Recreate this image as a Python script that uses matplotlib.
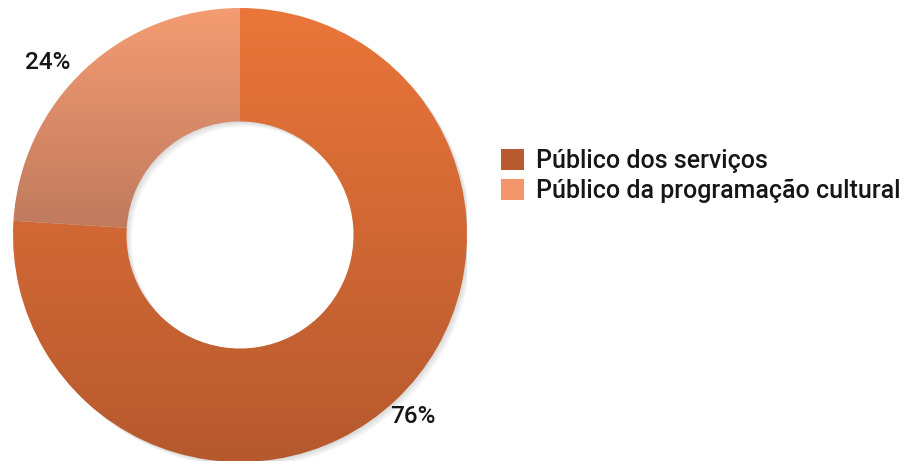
import numpy as np
import matplotlib
matplotlib.use('Agg')
import matplotlib.pyplot as plt
from matplotlib.colors import LinearSegmentedColormap
from matplotlib.patches import Patch

plt.rcParams['font.family'] = ['Roboto', 'DejaVu Sans']

# data
labels = ['Público dos serviços', 'Público da programação cultural']
values = [76, 24]
# gradient colours (top -> bottom) for each slice, plus the legend colour
grad_top = ['#EA763A', '#F49C73']
grad_bottom = ['#B6592E', '#C07A5E']
legend_colors = ['#B85A30', '#F4966C']

fig = plt.figure(figsize=(9.21, 4.61), dpi=100)
W, H = 921, 461
cx, cy, r = 240, 235, 227
ax = fig.add_axes([(cx - r) / W, (H - cy - r) / H, 2 * r / W, 2 * r / H])

wedges, texts, autotexts = ax.pie(
    values, startangle=90, counterclock=False, radius=1,
    wedgeprops=dict(width=0.5, linewidth=0),
    autopct='%d%%', pctdistance=1.12,
    textprops=dict(fontsize=17.5, color='#161616', fontweight='medium'))

# nudge the percentage labels to where the original puts them
autotexts[0].set_position((0.762, -0.80))
autotexts[1].set_position((-0.846, 0.758))

# soft shadow under the ring
for k in range(6):
    off = 0.004 * (k + 1)
    sh = matplotlib.patches.Wedge((off, -off), 1.0, 0, 360, width=0.5,
                                  facecolor='#000000', alpha=0.025, lw=0, zorder=0)
    ax.add_patch(sh)

# vertical gradient fill for each wedge, clipped to the wedge
for w, c0, c1 in zip(wedges, grad_top, grad_bottom):
    w.set_facecolor('none')
    bb = w.get_path().get_extents(w.get_transform() + ax.transData.inverted())
    cmap = LinearSegmentedColormap.from_list('g', [c0, c1])
    grad = np.linspace(0, 1, 256).reshape(-1, 1)
    im = ax.imshow(grad, cmap=cmap, aspect='auto',
                   extent=[-1.05, 1.05, bb.y0, bb.y1], origin='upper', zorder=1)
    im.set_clip_path(w)

ax.set_xlim(-1, 1)
ax.set_ylim(-1, 1)
ax.set_aspect('equal')
ax.axis('off')

handles = [Patch(facecolor=c, edgecolor='none') for c in legend_colors]
fig.legend(handles, labels, loc='upper left', bbox_to_anchor=(501 / W, 1 - 149 / H),
           frameon=False, prop=dict(size=18, weight='medium'),
           handlelength=0.9, handleheight=0.9, borderaxespad=0,
           handletextpad=0.5, labelspacing=0.25, borderpad=0, labelcolor='#161616')

fig.savefig('out.png', dpi=100)
